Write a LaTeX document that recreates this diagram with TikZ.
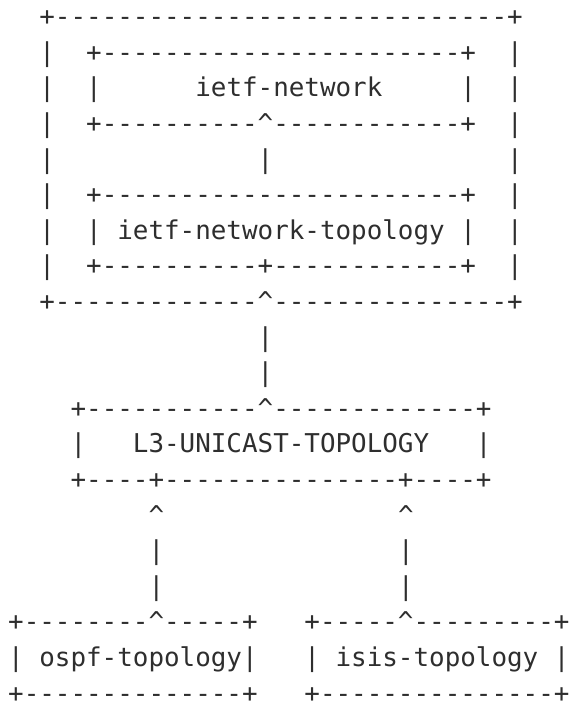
\documentclass[tikz,border=0pt]{standalone}
\usepackage{fontspec}
\setmonofont{DejaVu Sans Mono}
\definecolor{ink}{HTML}{2E2E2E}
\newcommand{\crt}{\char"5E\relax}
\begin{document}
\begin{tikzpicture}[x=1pt,y=-1pt,
  asc/.style={anchor=base west,inner sep=0pt,outer sep=0pt,text=ink,
    font=\ttfamily\fontsize{25.9}{30}\selectfont}]
\useasboundingbox (0,0) rectangle (572,702);
\def\cw{15.593}
\def\xo{8.2}
\def\lh{35.6}
\def\bo{25.6}
\node[asc] (l1)  at ({\xo+2*\cw},{\bo+0*\lh})  {+-----------------------------+};
\node[asc] (l2)  at ({\xo+2*\cw},{\bo+1*\lh})  {|~~+-----------------------+~~|};
\node[asc] (l3)  at ({\xo+2*\cw},{\bo+2*\lh})  {|~~|~~~~~~ietf-network~~~~~|~~|};
\node[asc] (l4)  at ({\xo+2*\cw},{\bo+3*\lh})  {|~~+----------\crt------------+~~|};
\node[asc] (l5)  at ({\xo+2*\cw},{\bo+4*\lh})  {|~~~~~~~~~~~~~|~~~~~~~~~~~~~~~|};
\node[asc] (l6)  at ({\xo+2*\cw},{\bo+5*\lh})  {|~~+-----------------------+~~|};
\node[asc] (l7)  at ({\xo+2*\cw},{\bo+6*\lh})  {|~~|~ietf-network-topology~|~~|};
\node[asc] (l8)  at ({\xo+2*\cw},{\bo+7*\lh})  {|~~+----------+------------+~~|};
\node[asc] (l9)  at ({\xo+2*\cw},{\bo+8*\lh})  {+-------------\crt---------------+};
\node[asc] (l10) at ({\xo+16*\cw},{\bo+9*\lh}) {|};
\node[asc] (l11) at ({\xo+16*\cw},{\bo+10*\lh}) {|};
\node[asc] (l12) at ({\xo+4*\cw},{\bo+11*\lh}) {+-----------\crt-------------+};
\node[asc] (l13) at ({\xo+4*\cw},{\bo+12*\lh}) {|~~~L3-UNICAST-TOPOLOGY~~~|};
\node[asc] (l14) at ({\xo+4*\cw},{\bo+13*\lh}) {+----+---------------+----+};
\node[asc] (l15) at ({\xo+9*\cw},{\bo+14*\lh}) {\crt~~~~~~~~~~~~~~~\crt};
\node[asc] (l16) at ({\xo+9*\cw},{\bo+15*\lh}) {|~~~~~~~~~~~~~~~|};
\node[asc] (l17) at ({\xo+9*\cw},{\bo+16*\lh}) {|~~~~~~~~~~~~~~~|};
\node[asc] (l18) at ({\xo+0*\cw},{\bo+17*\lh}) {+--------\crt-----+~~~+-----\crt---------+};
\node[asc] (l19) at ({\xo+0*\cw},{\bo+18*\lh}) {|~ospf-topology|~~~|~isis-topology~|};
\node[asc] (l20) at ({\xo+0*\cw},{\bo+19*\lh}) {+--------------+~~~+---------------+};
\end{tikzpicture}
\end{document}
